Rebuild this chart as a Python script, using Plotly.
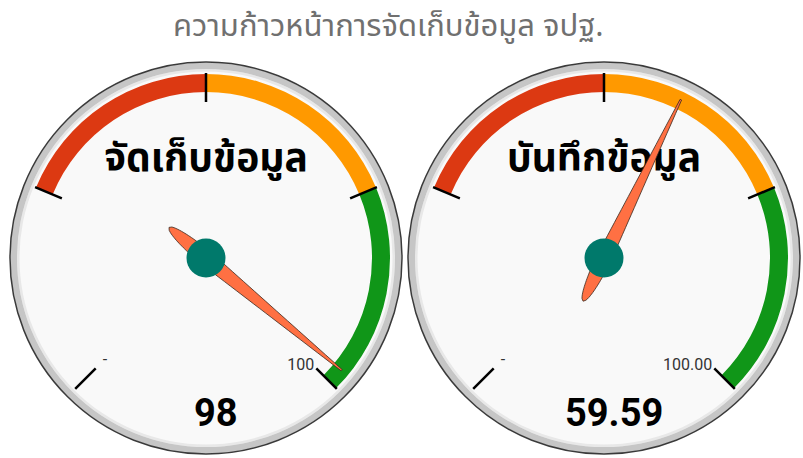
import math
import plotly.graph_objects as go

# ---------------- data ----------------
chart_title = "ความก้าวหน้าการจัดเก็บข้อมูล จปฐ."
gauge_names = ["จัดเก็บข้อมูล", "บันทึกข้อมูล"]
gauge_values = [98, 59.59]
value_labels = ["98", "59.59"]
axis_min = 0
axis_max = 100
tick_values = [0, 25, 50, 75, 100]
end_label_values = [0, 100]
end_labels = [["-", "100"], ["-", "100.00"]]
band_from = [25, 50, 75]
band_to = [50, 75, 100]
band_colors = ["#DC3912", "#FF9900", "#109618"]

# ---------------- style ----------------
W, H = 803, 458
R = 196.0
SWEEP = 270.0
centers = [(206.0, 258.0), (604.0, 258.0)]
THAI = "Noto Sans Thai, Tlwg Typo, Loma, Garuda, Noto Sans, DejaVu Sans, sans-serif"


def theta(v):
    return (v - axis_min) / (axis_max - axis_min) * SWEEP


def needle_shape(value):
    tip, rear, half = 176.0, 48.0, 7.5
    pts = []
    n = 24
    for i in range(n + 1):
        u = -rear + rear * i / n
        v = half * math.sqrt(max(0.0, 1 - (u / rear) ** 2))
        pts.append((u, v))
    for i in range(1, n + 1):
        u = tip * i / n
        v = half + (0.8 - half) * i / n
        pts.append((u, v))
    full = pts + [(u, -v) for (u, v) in reversed(pts)]
    rs, ths = [], []
    base = theta(value)
    for u, v in full:
        rs.append(math.hypot(u, v))
        ths.append(base + math.degrees(math.atan2(v, u)))
    return rs, ths


fig = go.Figure()
layout_polars = {}
annotations = []

for g in range(2):
    cx, cy = centers[g]
    sub = "polar" if g == 0 else "polar2"
    dom_x = [(cx - R) / W, (cx + R) / W]
    dom_y = [(H - cy - R) / H, (H - cy + R) / H]
    layout_polars[sub] = dict(
        domain=dict(x=dom_x, y=dom_y),
        bgcolor="#f9f9f9",
        hole=0,
        radialaxis=dict(visible=False, range=[0, R]),
        angularaxis=dict(
            rotation=225, direction="clockwise", thetaunit="degrees",
            showline=True, linecolor="#3a3a3a", linewidth=1.5,
            showgrid=False, showticklabels=False, ticks="",
        ),
    )
    # bezel rings
    fig.add_trace(go.Barpolar(
        r=[2.5], base=[186.5], theta=[180], width=[360], subplot=sub,
        marker=dict(color="#e8e8e8", line=dict(width=0)), hoverinfo="skip", showlegend=False))
    fig.add_trace(go.Barpolar(
        r=[6.5], base=[189], theta=[180], width=[360], subplot=sub,
        marker=dict(color="#c6c6c6", line=dict(width=0)), hoverinfo="skip", showlegend=False))
    # plot bands
    fig.add_trace(go.Barpolar(
        r=[18] * len(band_from), base=[166] * len(band_from),
        theta=[(theta(a) + theta(b)) / 2 for a, b in zip(band_from, band_to)],
        width=[theta(b) - theta(a) for a, b in zip(band_from, band_to)],
        subplot=sub,
        marker=dict(color=band_colors, line=dict(width=0)),
        hoverinfo="skip", showlegend=False))
    # ticks
    tr, tt = [], []
    for v in tick_values:
        tr += [156, 185, None]
        tt += [theta(v), theta(v), None]
    fig.add_trace(go.Scatterpolar(
        r=tr, theta=tt, mode="lines", subplot=sub,
        line=dict(color="#000000", width=2.5), hoverinfo="skip", showlegend=False))
    # end labels
    fig.add_trace(go.Scatterpolar(
        r=[146, 153], theta=[theta(v) for v in end_label_values], mode="text",
        text=end_labels[g], textposition=["middle right", "middle left"], subplot=sub,
        textfont=dict(size=16, color="#333333", family="Roboto, Arial, sans-serif"),
        hoverinfo="skip", showlegend=False))
    # gauge title (under the needle)
    fig.add_trace(go.Scatterpolar(
        r=[97], theta=[theta((axis_min + axis_max) / 2)], mode="text",
        text=["<b>%s</b>" % gauge_names[g]], textposition="middle center", subplot=sub,
        textfont=dict(size=39, color="#000000", family=THAI),
        hoverinfo="skip", showlegend=False))
    # needle
    nr, nt = needle_shape(gauge_values[g])
    fig.add_trace(go.Scatterpolar(
        r=nr, theta=nt, mode="lines", fill="toself", fillcolor="#FF7043",
        line=dict(color="#3a2a20", width=0.8), subplot=sub,
        hoverinfo="skip", showlegend=False))
    # pivot
    fig.add_trace(go.Scatterpolar(
        r=[0], theta=[0], mode="markers", subplot=sub,
        marker=dict(size=39, color="#00796B", line=dict(width=0)),
        hoverinfo="skip", showlegend=False))
    # value label
    annotations.append(dict(
        x=(cx + 10) / W, y=(H - 413) / H, xref="paper", yref="paper",
        text="<b>%s</b>" % value_labels[g], showarrow=False,
        xanchor="center", yanchor="middle",
        font=dict(size=38, color="#000000", family="Roboto, Arial, sans-serif")))

annotations.append(dict(
    x=388 / W, y=(H - 27) / H, xref="paper", yref="paper", text=chart_title,
    showarrow=False, xanchor="center", yanchor="middle",
    font=dict(size=31, color="#707070", family=THAI)))

fig.update_layout(
    width=W, height=H, margin=dict(l=0, r=0, t=0, b=0),
    paper_bgcolor="#ffffff", plot_bgcolor="#ffffff",
    showlegend=False, annotations=annotations, **layout_polars,
)

fig.write_html("out.html", config={"displayModeBar": False},
               post_script="document.body.style.margin='0px';")
